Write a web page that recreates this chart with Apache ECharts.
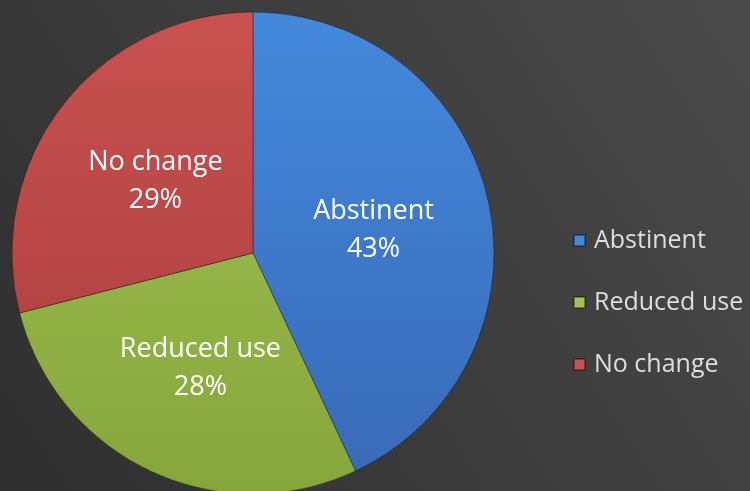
<!DOCTYPE html>
<html>
<head>
<meta charset="utf-8">
<script src="https://cdn.jsdelivr.net/npm/echarts@6/dist/echarts.min.js"></script>
<style>
  html, body { margin: 0; padding: 0; }
  #chart { width: 750px; height: 491px; }
</style>
</head>
<body>
<div id="chart"></div>
<script>
const categories = ['Abstinent', 'Reduced use', 'No change'];
const values = [43, 28, 29];
const colors = [
  ['#4489dc', '#3869b6'],
  ['#a3c454', '#86a63c'],
  ['#c85250', '#a83c3b']
];

function grad(c) {
  return new echarts.graphic.LinearGradient(0, 12, 0, 494, [
    { offset: 0, color: c[0] },
    { offset: 1, color: c[1] }
  ], true);
}

const myChart = echarts.init(document.getElementById('chart'));

const option = {
  backgroundColor: new echarts.graphic.LinearGradient(1, 0, 0, 1, [
    { offset: 0, color: '#4a4a4a' },
    { offset: 1, color: '#2f2f2f' }
  ]),
  animation: false,
  legend: {
    orient: 'vertical',
    left: 568,
    top: 223,
    icon: 'rect',
    itemWidth: 11,
    itemHeight: 11,
    itemGap: 37,
    data: categories,
    textStyle: {
      color: '#dedede',
      fontFamily: 'Open Sans',
      fontSize: 25,
      padding: [0, 0, 0, 4]
    }
  },
  series: [
    {
      type: 'pie',
      center: [253, 253],
      radius: 241,
      startAngle: 90,
      clockwise: true,
      itemStyle: {
        borderColor: 'rgba(0,0,0,0.35)',
        borderWidth: 1
      },
      label: {
        show: true,
        position: 'inside',
        color: '#ffffff',
        fontFamily: 'Open Sans',
        fontSize: 27,
        lineHeight: 38,
        offset: [0, 4],
        formatter: '{b}\n{d}%'
      },
      labelLine: { show: false },
      data: categories.map((name, i) => ({
        name: name,
        value: values[i],
        itemStyle: { color: grad(colors[i]) }
      }))
    }
  ]
};

myChart.setOption(option);
</script>
</body>
</html>
